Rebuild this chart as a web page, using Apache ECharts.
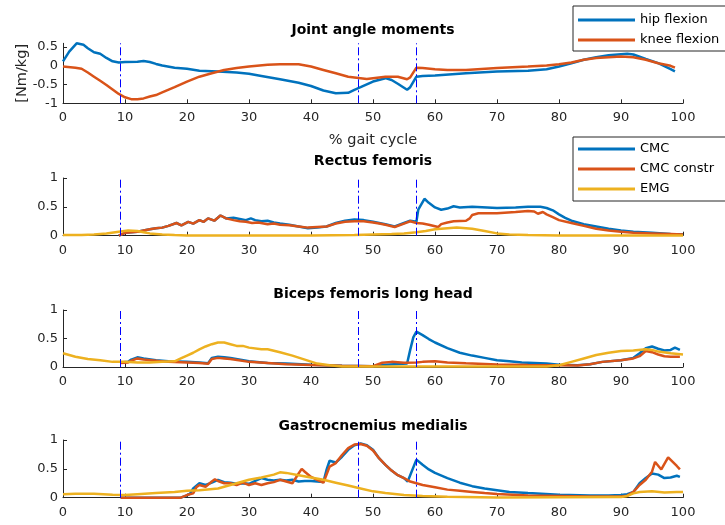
<!DOCTYPE html>
<html>
<head>
<meta charset="utf-8">
<script src="https://cdn.jsdelivr.net/npm/echarts@6/dist/echarts.min.js"></script>
<style>
  html, body { margin: 0; padding: 0; background: #fff; }
  #chart { width: 725px; height: 525px; }
</style>
</head>
<body>
<div id="chart"></div>
<script>
// ---------- data: % gait cycle on x ----------
const pctTicks = [0, 10, 20, 30, 40, 50, 60, 70, 80, 90, 100];
const momentTicks = [-1, -0.5, 0, 0.5];
const activationTicks = [0, 0.5, 1];
const phaseEvents = [9.3, 47.6, 57.0];

const panelTitles = ['Joint angle moments', 'Rectus femoris', 'Biceps femoris long head', 'Gastrocnemius medialis'];

// Joint angle moments [Nm/kg]
const hipPct = [0,1,2.2,3.3,4,5,6,7,8,9,10,12,13,14,15,16,18,20,22,25,28,30,32,35,38,40,42,44,46,47,48,50,52,53,54,55.5,56,57,58,60,65,70,75,78,80,82,84,86,88,90,91,92,94,96,98,98.7];
const hipFlexion = [0.12,0.38,0.6,0.56,0.47,0.36,0.32,0.21,0.12,0.09,0.1,0.11,0.13,0.1,0.05,0.01,-0.05,-0.08,-0.13,-0.15,-0.18,-0.21,-0.27,-0.36,-0.45,-0.54,-0.66,-0.73,-0.72,-0.64,-0.57,-0.42,-0.33,-0.38,-0.48,-0.64,-0.57,-0.29,-0.27,-0.26,-0.2,-0.15,-0.13,-0.09,-0.02,0.07,0.16,0.23,0.28,0.31,0.32,0.3,0.18,0.07,-0.09,-0.15];
const kneePct = [0,2,3,4,5,6,7,8,9,10,11,12,13,14,15,16,18,20,22,24,26,28,30,33,35,38,40,42,44,46,48,49,50,52,54,55.5,56,57,58,60,62,65,70,75,78,80,82,84,86,88,90,92,94,96,98,98.7];
const kneeFlexion = [-0.02,-0.05,-0.08,-0.18,-0.29,-0.4,-0.51,-0.63,-0.75,-0.84,-0.89,-0.89,-0.87,-0.82,-0.78,-0.71,-0.57,-0.42,-0.29,-0.2,-0.11,-0.06,-0.02,0.03,0.04,0.04,-0.02,-0.11,-0.2,-0.29,-0.33,-0.35,-0.33,-0.29,-0.29,-0.36,-0.31,-0.05,-0.06,-0.09,-0.11,-0.11,-0.06,-0.02,0.01,0.04,0.09,0.16,0.21,0.23,0.25,0.23,0.16,0.07,0,-0.05];

// Rectus femoris activation
const rfCmcPct = [9,10,11,12,13,14,15,16,17,18.3,19.1,20.2,21,22,22.7,23.4,24.4,25.4,26.3,27.5,28.5,29.5,30.3,31,32,33,34,35,36.5,38,39.5,41,42.5,44,45.5,47,48.5,50,51,52,53.5,55,56,57,57.3,58.3,59,60,61,62,63,64,66,70,73,75,77,78,79,80,81,82,84,86,88,90,92,95,98,100];
const rfCmc = [0,0.05,0.06,0.07,0.09,0.11,0.13,0.14,0.17,0.22,0.18,0.24,0.21,0.27,0.24,0.3,0.26,0.35,0.3,0.31,0.29,0.27,0.3,0.27,0.25,0.26,0.23,0.21,0.19,0.16,0.13,0.14,0.16,0.22,0.26,0.28,0.27,0.24,0.22,0.2,0.16,0.22,0.26,0.24,0.45,0.64,0.57,0.49,0.45,0.47,0.51,0.49,0.5,0.48,0.49,0.5,0.5,0.48,0.44,0.37,0.31,0.26,0.2,0.16,0.12,0.09,0.07,0.05,0.03,0.02];
const rfConstrPct = [9,10,11,12,13,14,15,16,17,18.3,19.1,20.2,21,22,22.7,23.4,24.4,25.4,26.3,27.5,28.5,29.5,30.5,31.5,33,34,35,36.5,38,39.5,41,42.5,44,45.5,47,48.5,50,51,52,53.5,55,56,57,58,59,60.5,61,62,63,65,65.6,66,67,70,73,75,76,76.6,77.4,78,79,80,82,84,86,88,90,92,95,98,100];
const rfConstr = [0,0.05,0.06,0.07,0.09,0.11,0.13,0.14,0.17,0.22,0.18,0.24,0.21,0.27,0.24,0.3,0.26,0.35,0.3,0.27,0.25,0.24,0.22,0.23,0.2,0.21,0.19,0.18,0.16,0.14,0.15,0.16,0.21,0.24,0.25,0.25,0.23,0.21,0.19,0.15,0.21,0.25,0.22,0.21,0.19,0.15,0.2,0.23,0.25,0.26,0.3,0.36,0.39,0.39,0.41,0.43,0.42,0.38,0.41,0.37,0.32,0.27,0.22,0.17,0.12,0.09,0.07,0.05,0.04,0.03,0.02];
const rfEmgPct = [0,3,5,7,9,10.5,12,13,14,16,18,20,30,40,47,50,53,55,57,58.5,60,62,63.5,65,66,68,70,72,75,80,100];
const rfEmg = [0.01,0.01,0.02,0.04,0.07,0.09,0.08,0.06,0.04,0.02,0.01,0.005,0.005,0.005,0.01,0.02,0.03,0.04,0.06,0.08,0.11,0.13,0.14,0.13,0.12,0.08,0.04,0.02,0.01,0.005,0.005];

// Biceps femoris long head activation
const bfCmcPct = [9.3,10.5,11,12,13,15,17,20,22,23.4,24,25,26,27,30,33,36,40,45,50,52,55.5,56,56.5,57,58,59,60,62,64,66,68,70,72,74,76,78,80,83,85,87,90,92,93,94,95,96,97,98,98.7,99.5];
const bfCmc = [0.08,0.09,0.13,0.17,0.15,0.12,0.1,0.09,0.08,0.065,0.16,0.18,0.17,0.16,0.1,0.07,0.06,0.04,0.02,0.015,0.04,0.06,0.3,0.52,0.62,0.56,0.49,0.43,0.33,0.25,0.2,0.16,0.12,0.1,0.08,0.07,0.06,0.04,0.03,0.05,0.09,0.12,0.16,0.24,0.33,0.36,0.32,0.29,0.3,0.34,0.3];
const bfConstrPct = [9.3,10.5,11,12,13,15,17,20,22,23.4,24,25,26,27,30,33,36,40,45,50,51.5,53,55,57,58,60,62,65,70,75,80,83,85,87,90,92,93,94,95,96,97,98,99.5];
const bfConstr = [0.07,0.08,0.11,0.15,0.13,0.11,0.09,0.08,0.07,0.055,0.14,0.16,0.15,0.14,0.09,0.07,0.05,0.035,0.02,0.015,0.075,0.09,0.075,0.08,0.09,0.1,0.08,0.065,0.045,0.035,0.03,0.025,0.05,0.09,0.12,0.15,0.19,0.28,0.26,0.22,0.19,0.18,0.18];
const bfEmgPct = [0,2,4,6,8,10,12,14,16,18,19,20,21,22,23,24,25,26,27,28,29,30,32,33,35,37,39,41,43,45,78,80,82,84,86,88,90,92,94,95,96,98,100];
const bfEmg = [0.24,0.18,0.14,0.12,0.09,0.09,0.08,0.08,0.09,0.1,0.15,0.2,0.25,0.31,0.36,0.4,0.43,0.43,0.4,0.37,0.37,0.34,0.31,0.31,0.26,0.2,0.13,0.06,0.03,0.01,0.01,0.03,0.09,0.15,0.21,0.25,0.28,0.29,0.31,0.3,0.27,0.24,0.22];

// Gastrocnemius medialis activation
const gmCmcPct = [9.3,19,20,20.5,21,22,23,24,25,26,27,28,29,30,31,32,33,34,35,36,37,38,39,40,41,42,42.5,43,44,45,46,47,48,49,50,51,52,53,54,55,55.6,57,58,59,60,62,64,66,68,70,72,75,80,85,88,90,91,92,93,94,95,96,97,98,99,99.5];
const gmCmc = [0,0,0.04,0.07,0.16,0.25,0.22,0.26,0.31,0.27,0.26,0.24,0.25,0.24,0.29,0.34,0.31,0.3,0.31,0.3,0.31,0.28,0.29,0.29,0.28,0.27,0.48,0.64,0.61,0.71,0.83,0.91,0.94,0.91,0.83,0.68,0.57,0.47,0.39,0.34,0.28,0.66,0.57,0.49,0.43,0.34,0.26,0.2,0.16,0.13,0.1,0.08,0.05,0.04,0.04,0.046,0.06,0.1,0.25,0.34,0.42,0.4,0.34,0.35,0.38,0.36];
const gmConstrPct = [9.3,19,20,21,21.5,22,23,24,24.5,25,26,27,28,29,30,31,32,33,34,35,36,37,38,38.5,39,40,41,42,43,44,45,46,47,48,49,50,51,52,53,54,55,56,57,58,60,62,64,66,68,70,75,80,85,90,91,92,93,94,95,95.5,96.5,97.6,99,99.5];
const gmConstr = [0,0,0.046,0.075,0.18,0.22,0.19,0.28,0.32,0.29,0.25,0.25,0.22,0.26,0.22,0.25,0.22,0.25,0.27,0.31,0.28,0.25,0.42,0.5,0.45,0.36,0.31,0.26,0.54,0.6,0.74,0.86,0.92,0.93,0.9,0.82,0.68,0.57,0.47,0.39,0.34,0.28,0.25,0.22,0.18,0.14,0.12,0.1,0.08,0.065,0.04,0.03,0.02,0.02,0.035,0.1,0.22,0.31,0.45,0.62,0.49,0.7,0.55,0.49];
const gmEmgPct = [0,2,5,8,10,12,15,18,20,22,25,28,30,32,34,35,36,38,40,42,44,46,48,50,52,55,58,62,70,90,91,92,93,95,97,99,100];
const gmEmg = [0.06,0.07,0.07,0.05,0.046,0.06,0.08,0.1,0.12,0.13,0.16,0.25,0.31,0.35,0.4,0.44,0.43,0.39,0.35,0.31,0.26,0.21,0.16,0.11,0.08,0.046,0.03,0.017,0.005,0.01,0.03,0.075,0.1,0.11,0.09,0.1,0.1];

// ---------- styling ----------
const FONT = 'DejaVu Sans';
const INK = '#262626';
const C_BLUE = '#0072BD';
const C_RED = '#D95319';
const C_YELLOW = '#EDB120';

const pair = (xs, ys) => xs.map((x, i) => [x, ys[i]]);

const gridBoxes = [
  { top: 43.3, height: 60 },
  { top: 178, height: 57.7 },
  { top: 310, height: 57 },
  { top: 440, height: 57.7 }
];
const titleTops = [23, 154, 287, 419];

const grid = gridBoxes.map(b => ({ left: 63, width: 620, top: b.top, height: b.height, containLabel: false }));

const axisCommon = {
  axisLine: { show: true, onZero: false, lineStyle: { color: INK, width: 1 } },
  axisTick: { show: true, inside: true, length: 4, lineStyle: { color: INK } },
  axisLabel: { color: INK, fontFamily: FONT, fontSize: 13 },
  splitLine: { show: false }
};

const xAxis = grid.map((g, i) => Object.assign({}, axisCommon, {
  type: 'value', gridIndex: i, min: 0, max: 100, interval: 10,
  axisTick: Object.assign({}, axisCommon.axisTick, { customValues: pctTicks }),
  axisLabel: Object.assign({}, axisCommon.axisLabel, { margin: 8, customValues: pctTicks }),
  name: i === 0 ? '% gait cycle' : '',
  nameLocation: 'middle', nameGap: 29,
  nameTextStyle: { color: INK, fontFamily: FONT, fontSize: 14.5 }
}));

const yAxis = grid.map((g, i) => {
  const top = i === 0;
  return Object.assign({}, axisCommon, {
    type: 'value', gridIndex: i,
    min: top ? -1 : 0, max: top ? 0.6 : 1, interval: 0.5,
    axisTick: Object.assign({}, axisCommon.axisTick, { customValues: top ? momentTicks : activationTicks }),
    axisLabel: Object.assign({}, axisCommon.axisLabel, { margin: 5, customValues: top ? momentTicks : activationTicks }),
    name: top ? '[Nm/kg]' : '',
    nameLocation: 'middle', nameGap: 33, nameRotate: 90, nameMoveOverlap: false,
    nameTextStyle: { color: INK, fontFamily: FONT, fontSize: 14.5 }
  });
});

function lineSeries(name, color, data, gi) {
  return {
    type: 'line', name, data, xAxisIndex: gi, yAxisIndex: gi,
    showSymbol: false, symbol: 'none', silent: true,
    lineStyle: { color, width: 2.5 }, itemStyle: { color },
    animation: false
  };
}

function phaseSeries(gi) {
  return {
    type: 'line', data: [], xAxisIndex: gi, yAxisIndex: gi, silent: true, animation: false,
    markLine: {
      silent: true, symbol: 'none', animation: false, label: { show: false },
      lineStyle: { color: '#0000FF', width: 1, type: [8, 3, 2, 3] },
      data: phaseEvents.map(v => ({ xAxis: v }))
    }
  };
}

const muscles = [
  [rfCmcPct, rfCmc, rfConstrPct, rfConstr, rfEmgPct, rfEmg],
  [bfCmcPct, bfCmc, bfConstrPct, bfConstr, bfEmgPct, bfEmg],
  [gmCmcPct, gmCmc, gmConstrPct, gmConstr, gmEmgPct, gmEmg]
];

const series = [
  lineSeries('hip flexion', C_BLUE, pair(hipPct, hipFlexion), 0),
  lineSeries('knee flexion', C_RED, pair(kneePct, kneeFlexion), 0),
  phaseSeries(0)
];
muscles.forEach((m, k) => {
  const gi = k + 1;
  series.push(lineSeries('CMC', C_BLUE, pair(m[0], m[1]), gi));
  series.push(lineSeries('CMC constr', C_RED, pair(m[2], m[3]), gi));
  series.push(lineSeries('EMG', C_YELLOW, pair(m[4], m[5]), gi));
  series.push(phaseSeries(gi));
});

const legendCommon = {
  orient: 'vertical', left: 573, icon: 'rect', itemWidth: 57, itemHeight: 3, itemGap: 2,
  backgroundColor: '#fff', borderColor: INK, borderWidth: 1, borderRadius: 0,
  textStyle: { color: '#000', fontFamily: FONT, fontSize: 13, lineHeight: 18 },
  selectedMode: false
};

const option = {
  backgroundColor: '#fff',
  animation: false,
  title: panelTitles.map((t, i) => ({
    text: t, left: 373, top: titleTops[i], textAlign: 'center', padding: 0,
    textStyle: { color: '#000', fontFamily: FONT, fontSize: 14, fontWeight: 'bold' }
  })),
  legend: [
    Object.assign({}, legendCommon, { top: 6, padding: [5, 40, 2, 5], data: ['hip flexion', 'knee flexion'] }),
    Object.assign({}, legendCommon, { top: 137, padding: [3, 40, 3, 5], data: ['CMC', 'CMC constr', 'EMG'] })
  ],
  grid, xAxis, yAxis, series
};

const chart = echarts.init(document.getElementById('chart'), null, { renderer: 'canvas' });
chart.setOption(option);
</script>
</body>
</html>
